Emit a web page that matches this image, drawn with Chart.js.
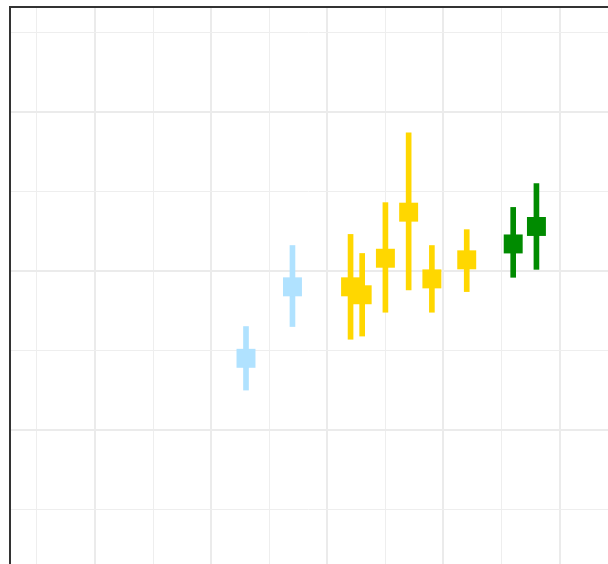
<!DOCTYPE html>
<html>
<head>
<meta charset="utf-8">
<style>
  html, body { margin: 0; padding: 0; background: #ffffff; overflow: hidden; }
  canvas { display: block; }
</style>
<script src="https://cdn.jsdelivr.net/npm/chart.js@4/dist/chart.umd.min.js"></script>
</head>
<body>
<canvas id="chart" width="608" height="564"></canvas>
<script>
// Estimates with their intervals, one entry per study
const xValues   = [2003, 2007, 2012, 2013, 2015, 2017, 2019, 2022, 2026, 2028];
const estimates = [-0.55, -0.10, -0.10, -0.15, 0.08, 0.37, -0.05, 0.07, 0.17, 0.28];
const lower     = [-0.75, -0.35, -0.43, -0.41, -0.26, -0.12, -0.26, -0.13, -0.04, 0.01];
const upper     = [-0.35, 0.16, 0.23, 0.11, 0.43, 0.87, 0.16, 0.26, 0.40, 0.55];
const groups    = ['A', 'A', 'B', 'B', 'B', 'B', 'B', 'B', 'C', 'C'];

// Grid positions (no tick labels are drawn)
const xGridValues = [1985, 1990, 1995, 2000, 2005, 2010, 2015, 2020, 2025, 2030];
const yGridValues = [-1.5, -1, -0.5, 0, 0.5, 1, 1.5];

const groupColours = { A: '#B0E2FF', B: '#FFD700', C: '#008B00' };
const colours = groups.map(g => groupColours[g]);

const isMajorX = v => Math.abs(v % 10) < 1e-9;
const isMajorY = v => Math.abs(v - Math.round(v)) < 1e-9;

// Axes take no room: the panel fills the canvas apart from the layout padding
const collapseAxis = s => {
  if (s.isHorizontal()) { s.height = 0; } else { s.width = 0; }
  s.paddingLeft = s.paddingRight = s.paddingTop = s.paddingBottom = 0;
};

// Dark frame along the top and left edges of the panel
const panelFrame = {
  id: 'panelFrame',
  afterDraw(chart) {
    const { ctx, chartArea: a } = chart;
    ctx.save();
    ctx.fillStyle = '#333333';
    ctx.fillRect(a.left, a.top, 2, a.bottom - a.top);
    ctx.fillRect(a.left, a.top, a.right - a.left, 2);
    ctx.restore();
  }
};

new Chart(document.getElementById('chart'), {
  data: {
    datasets: [
      {
        type: 'bar',
        order: 2,
        data: xValues.map((x, i) => ({ x: x, y: [lower[i], upper[i]] })),
        backgroundColor: colours,
        borderWidth: 0,
        borderSkipped: false,
        barThickness: 5
      },
      {
        type: 'scatter',
        order: 1,
        data: xValues.map((x, i) => ({ x: x, y: estimates[i] })),
        pointStyle: 'rect',
        pointRadius: 13.4,
        pointHoverRadius: 13.4,
        pointBackgroundColor: colours,
        pointBorderWidth: 0,
        borderWidth: 0
      }
    ]
  },
  options: {
    responsive: false,
    animation: false,
    events: [],
    layout: { autoPadding: false, padding: { left: 9, top: 6, right: 0, bottom: 0 } },
    plugins: { legend: { display: false }, tooltip: { enabled: false } },
    scales: {
      x: {
        type: 'linear',
        position: 'bottom',
        offset: false,
        min: 1982.6,
        max: 2034.16,
        afterBuildTicks: s => { s.ticks = xGridValues.map(v => ({ value: v })); },
        afterFit: collapseAxis,
        ticks: { display: false, padding: 0 },
        border: { display: false },
        grid: {
          offset: false,
          drawTicks: false,
          tickLength: 0,
          color: c => isMajorX(c.tick.value) ? '#EBEBEB' : '#EEEEEE',
          lineWidth: c => isMajorX(c.tick.value) ? 2 : 1
        }
      },
      y: {
        type: 'linear',
        position: 'left',
        min: -1.845,
        max: 1.668,
        afterBuildTicks: s => { s.ticks = yGridValues.map(v => ({ value: v })); },
        afterFit: collapseAxis,
        ticks: { display: false, padding: 0 },
        border: { display: false },
        grid: {
          drawTicks: false,
          tickLength: 0,
          color: c => isMajorY(c.tick.value) ? '#EBEBEB' : '#EEEEEE',
          lineWidth: c => isMajorY(c.tick.value) ? 2 : 1
        }
      }
    }
  },
  plugins: [panelFrame]
});
</script>
</body>
</html>
